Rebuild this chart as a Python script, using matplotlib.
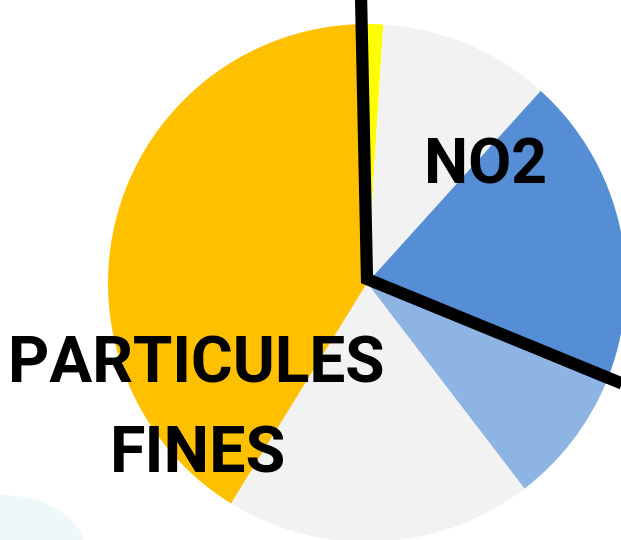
import matplotlib
matplotlib.use("Agg")
import matplotlib.pyplot as plt
from matplotlib.patches import Ellipse

# Slice shares (clockwise from top)
labels = ["", "", "NO2", "", "", "PARTICULES\nFINES"]
values = [1.0, 10.7, 19.7, 8.2, 19.2, 41.2]
colors = ["#FFFF00", "#F2F2F2", "#558ED5", "#8EB4E3", "#F2F2F2", "#FFC000"]

W, H = 621, 540
fig = plt.figure(figsize=(W / 100, H / 100), dpi=100)
ax = fig.add_axes([0, 0, 1, 1])

cx, cy, r = 367, H - 283, 259
ax.pie(values, colors=colors, startangle=90, counterclock=False,
       center=(cx, cy), radius=r, wedgeprops=dict(linewidth=0))

# faint background blob bottom-left
ax.add_patch(Ellipse((0, -10), 170, 110, color="#EEF8F8", alpha=0.9, lw=0, zorder=0))

# black divider lines
ax.plot([361, 367, 650], [H + 5, H - 279, H - 395], color="black",
        lw=8.8, solid_joinstyle="miter", solid_capstyle="butt", zorder=5)

font = "Roboto"
ax.text(485, H - 166, "NO2", fontsize=45, fontweight="bold", family=font,
        ha="center", va="center", zorder=6)
ax.text(196, H - 365, "PARTICULES", fontsize=46, fontweight="bold", family=font,
        ha="center", va="center", zorder=6)
ax.text(198, H - 455, "FINES", fontsize=46.5, fontweight="bold", family=font,
        ha="center", va="center", zorder=6)

ax.set_xlim(0, W)
ax.set_ylim(0, H)
ax.set_aspect("auto")
ax.axis("off")
fig.savefig("out.png", dpi=100)
